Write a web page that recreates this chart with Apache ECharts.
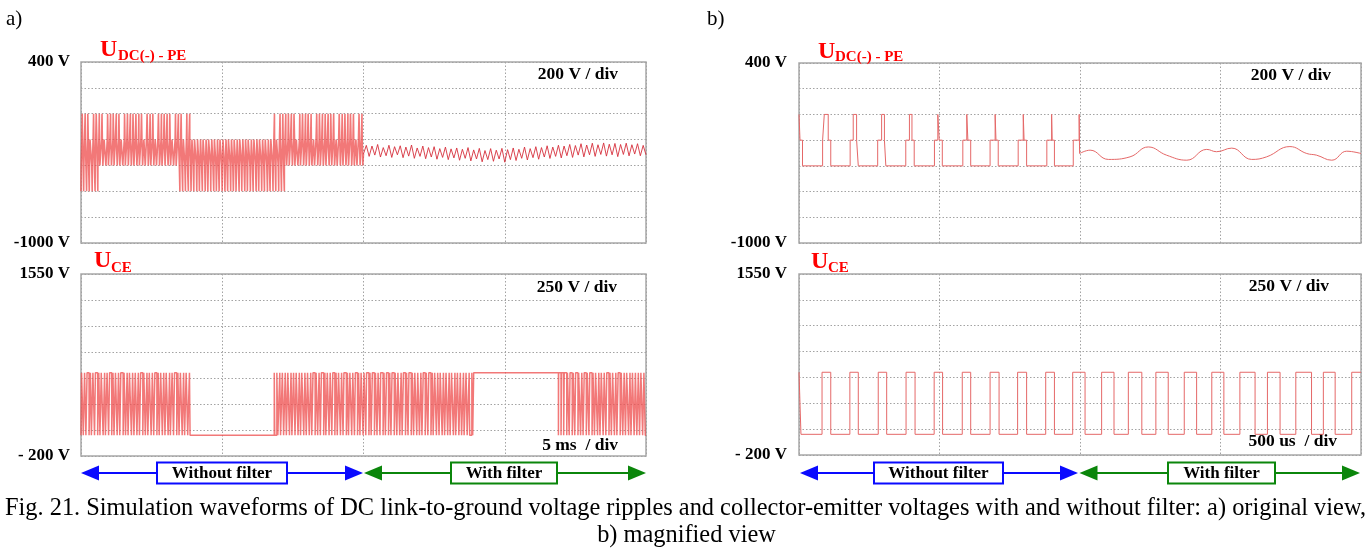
<!DOCTYPE html>
<html>
<head>
<meta charset="utf-8">
<script src="https://cdn.jsdelivr.net/npm/echarts@6/dist/echarts.min.js"></script>
<style>
  html, body { margin: 0; padding: 0; background: #ffffff; }
  #fig { width: 1372px; height: 551px; }
</style>
</head>
<body>
<div id="fig"></div>
<script>
// ---------------- Data ----------------
// a) original view: 20 ms window (5 ms/div), 100 us switching periods.
// DC(-)-to-PE voltage without filter (0..10 ms): per-period widths in us.
// mid = time spent at -200 V or above, top = time at 0 V, low = time at -600 V.
const aUdcMidWidth = [
  46, 52, 38, 61, 44, 57, 35, 49, 63, 41,
  55, 39, 66, 47, 58, 36, 51, 62, 43, 54,
  37, 60, 48, 65, 40, 53, 45, 59, 34, 50,
  64, 42, 56, 38, 61, 47, 52, 36, 58, 44,
  63, 49, 39, 57, 45, 66, 41, 54, 37, 60,
  48, 35, 62, 46, 55, 40, 59, 43, 51, 64,
  38, 56, 47, 61, 42, 53, 36, 58, 45, 63,
  50, 39, 57, 44, 65, 41, 54, 37, 60, 48,
  62, 46, 35, 59, 43, 55, 40, 66, 49, 52,
  38, 61, 45, 57, 42, 64, 47, 36, 58, 50
];
const aUdcTopWidth = [
  14, 6, 18, 0, 10, 22, 4, 12, 0, 16,
  8, 20, 2, 13, 0, 17, 9, 5, 19, 11,
  3, 15, 0, 21, 7, 12, 0, 18, 6, 10,
  2, 14, 0, 9, 4, 11, 0, 6, 3, 0,
  0, 0, 0, 0, 0, 0, 0, 0, 0, 0,
  0, 0, 0, 0, 0, 0, 0, 0, 0, 0,
  0, 0, 0, 0, 0, 0, 0, 0, 4, 0,
  8, 12, 3, 16, 7, 20, 0, 11, 15, 5,
  18, 9, 0, 13, 21, 6, 10, 2, 17, 12,
  0, 19, 8, 14, 4, 22, 11, 0, 16, 9
];
const aUdcLowWidth = [
  12, 5, 16, 8, 3, 10, 0, 0, 0, 0,
  0, 0, 0, 0, 0, 0, 0, 0, 0, 0,
  0, 0, 0, 0, 0, 0, 0, 0, 0, 0,
  0, 0, 0, 0, 0, 2, 6, 0, 9, 14,
  4, 18, 11, 7, 20, 13, 3, 16, 22, 8,
  12, 19, 5, 15, 24, 9, 17, 6, 21, 10,
  14, 3, 18, 8, 12, 0, 15, 6, 10, 2,
  7, 4, 0, 0, 0, 0, 0, 0, 0, 0,
  0, 0, 0, 0, 0, 0, 0, 0, 0, 0,
  0, 0, 0, 0, 0, 0, 0, 0, 0, 0
];
const udcLevels = [0, -200, -400, -600];          // V
// Filtered DC(-)-to-PE ripple (10..20 ms), turning points every 0.1 ms, V
const aUdcRippleStartMs = 10;
const aUdcRippleStepMs = 0.1;
const aUdcRipple = [
  -310, -245, -330, -250, -320, -238, -335, -262, -325, -244,
  -338, -255, -318, -248, -340, -258, -328, -242, -345, -265,
  -330, -250, -348, -262, -335, -255, -352, -270, -338, -258,
  -355, -272, -342, -265, -360, -275, -345, -262, -365, -280,
  -350, -268, -372, -285, -355, -270, -368, -282, -350, -268,
  -375, -278, -355, -265, -362, -275, -345, -258, -358, -270,
  -340, -255, -352, -262, -335, -248, -346, -258, -330, -244,
  -342, -250, -325, -238, -338, -246, -320, -232, -334, -242,
  -318, -228, -330, -240, -315, -226, -328, -236, -318, -230,
  -332, -238, -315, -228, -326, -240, -312, -232, -325, -245,
  -318
];
// Collector-emitter voltage: high time per 100 us period (us), 0..20 ms
const aUceHighWidth = [
  62, 48, 71, 35, 57, 80, 42, 66, 29, 53,
  74, 38, 60, 45, 83, 51, 33, 69, 47, 58,
  40, 76, 55, 31, 64, 49, 72, 37, 59, 44,
  67, 28, 52, 78, 41, 63, 36, 55, 22, 0,
  0, 0, 0, 0, 0, 0, 0, 0, 0, 0,
  0, 0, 0, 0, 0, 0, 0, 0, 0, 0,
  0, 0, 0, 0, 0, 0, 0, 0, 18, 34,
  27, 45, 39, 58, 31, 52, 66, 43, 70, 49,
  61, 38, 75, 54, 46, 81, 35, 63, 57, 72,
  44, 68, 52, 86, 39, 65, 59, 77, 48, 70,
  62, 83, 41, 74, 56, 67, 88, 50, 71, 45,
  79, 58, 64, 37, 73, 53, 82, 46, 68, 60,
  39, 71, 55, 76, 33, 62, 48, 69, 42, 57,
  35, 64, 28, 51, 44, 23, 40, 19, 30, 100,
  100, 100, 100, 100, 100, 100, 100, 100, 100, 100,
  100, 100, 100, 100, 100, 100, 100, 100, 100, 100,
  100, 100, 100, 100, 100, 100, 100, 100, 100, 85,
  72, 90, 64, 78, 55, 83, 68, 47, 74, 60,
  81, 52, 70, 43, 66, 58, 77, 49, 63, 38,
  71, 54, 45, 67, 36, 59, 50, 42, 62, 48
];
const uceLevels = [0, 600];                        // V

// b) magnified view: 2 ms window (500 us/div), times in us.
// DC(-)-to-PE without filter: [plateauStart, plateauEnd, spikeStart, spikeEnd]
const bUdcPulses = [
  [0, 12.5, 0, 3.6],
  [84, 113, 90, 104],
  [182, 211, 193, 205],
  [280, 309, 294, 304],
  [380, 410, 393, 402],
  [482, 510, 494, 499],
  [583, 611, 597, 601],
  [680, 709, 698, 701],
  [780, 810, 798, 801],
  [882, 909, 899, 901],
  [976, 998.5, 997, 998.5]
];
// Filtered ripple after 1 ms: [t (us), V]
const bUdcRipple = [
  [998.5, -304], [1036, -278], [1101, -350], [1178, -330], [1243, -253],
  [1308, -317], [1380, -356], [1451, -272], [1486, -290], [1540, -262],
  [1611, -350], [1664, -330], [1747, -250], [1807, -304], [1842, -317],
  [1896, -356], [1949, -286], [2000, -304]
];
// Collector-emitter voltage high intervals [start, end] (us)
const bUcePulses = [
  [0, 7], [82, 113], [181, 211], [282, 312], [381, 413], [481, 511],
  [581, 611], [680, 712], [778, 810], [878, 909], [974, 1018],
  [1077, 1121], [1172, 1220], [1270, 1314], [1371, 1415], [1469, 1512],
  [1569, 1623], [1667, 1712], [1768, 1824], [1866, 1908], [1967, 2000]
];

// Axis and annotation texts
const udcTickLabels = { max: '400 V', min: '-1000 V' };
const uceTickLabels = { max: '1550 V', min: '- 200 V' };
const captionLine1 = 'Fig. 21. Simulation waveforms of DC link-to-ground voltage ripples and collector-emitter voltages with and without filter: a) original view,';
const captionLine2 = 'b) magnified view';

// ---------------- Trace builders ----------------
function buildNestedPwm(mid, top, low, periodMs) {
  const [lvTop, lvMid, lvBase, lvLow] = udcLevels;
  const pts = [];
  for (let k = 0; k < mid.length; k++) {
    const m = mid[k] / 1000, tp = top[k] / 1000, lw = low[k] / 1000;
    const base = (periodMs - lw - m) / 2;
    const segs = [
      [lvLow, lw / 2], [lvBase, base], [lvMid, (m - tp) / 2], [lvTop, tp],
      [lvMid, (m - tp) / 2], [lvBase, base], [lvLow, lw / 2]
    ];
    let t = k * periodMs;
    segs.forEach(([lv, d]) => {
      if (d <= 0) return;
      pts.push([t, lv], [t + d, lv]);
      t += d;
    });
  }
  return pts;
}

function buildCenteredPulses(widths, periodMs) {
  const [lo, hi] = uceLevels;
  const pts = [];
  for (let k = 0; k < widths.length; k++) {
    const w = widths[k] / 1000, off = (periodMs - w) / 2;
    let t = k * periodMs;
    if (off > 0) { pts.push([t, lo], [t + off, lo]); t += off; }
    if (w > 0) { pts.push([t, hi], [t + w, hi]); t += w; }
    if (off > 0) { pts.push([t, lo], [t + off, lo]); }
  }
  return pts;
}

function buildIntervals(list, lo, hi, end) {
  const pts = [];
  let t = 0;
  list.forEach(([s, e]) => {
    if (s > t) pts.push([t, lo], [s, lo]);
    pts.push([s, hi], [e, hi]);
    t = e;
  });
  if (t < end) pts.push([t, lo], [end, lo]);
  return pts;
}

function buildPlateauSpikes(list) {
  const [lvTop, lvMid, lvBase] = udcLevels;
  const pts = [];
  let t = 0;
  list.forEach(([s, e, ss, se]) => {
    if (s > t) pts.push([t, lvBase], [s, lvBase]);
    if (ss > s) pts.push([s, lvMid], [ss, lvMid]);
    pts.push([ss, lvTop], [se, lvTop]);
    if (e > se) pts.push([se, lvMid], [e, lvMid]);
    t = e;
  });
  return pts;
}

const aUdcSwitched = buildNestedPwm(aUdcMidWidth, aUdcTopWidth, aUdcLowWidth, 0.1);
const aUdcFiltered = aUdcRipple.map((v, i) => [aUdcRippleStartMs + i * aUdcRippleStepMs, v]);
aUdcSwitched.push(aUdcFiltered[0]);
const aUce = buildCenteredPulses(aUceHighWidth, 0.1);
const bUdcSwitched = buildPlateauSpikes(bUdcPulses);
bUdcSwitched.push(bUdcRipple[0]);
const bUce = buildIntervals(bUcePulses, uceLevels[0], uceLevels[1], 2000);

// ---------------- Chart ----------------
const SERIF = '"Liberation Serif", "Times New Roman", serif';
const gridLine = { show: true, lineStyle: { color: '#a3a3a3', width: 1, type: [1.5, 2] } };
const gridBox = { show: true, borderColor: '#a8a8a8', borderWidth: 1.5, backgroundColor: '#ffffff', containLabel: false };

const grids = [
  Object.assign({ left: 81, top: 62, width: 565, height: 181 }, gridBox),
  Object.assign({ left: 81, top: 274, width: 565, height: 182 }, gridBox),
  Object.assign({ left: 799, top: 63, width: 562, height: 180 }, gridBox),
  Object.assign({ left: 799, top: 274, width: 562, height: 181 }, gridBox)
];

function xAxisFor(gridIndex, max, interval) {
  return {
    type: 'value', gridIndex, min: 0, max, interval,
    axisLine: { show: false }, axisTick: { show: false }, axisLabel: { show: false },
    splitLine: gridLine
  };
}
function yAxisFor(gridIndex, min, max, interval, labels, margin) {
  return {
    type: 'value', gridIndex, min, max, interval,
    axisLine: { show: false }, axisTick: { show: false },
    axisLabel: {
      show: true, margin,
      fontFamily: SERIF, fontWeight: 'bold', fontSize: 17, color: '#000',
      formatter: v => (v === max ? labels.max : (v === min ? labels.min : ''))
    },
    splitLine: gridLine
  };
}

function trace(data, xi, color, width, smooth) {
  return {
    type: 'line', xAxisIndex: xi, yAxisIndex: xi, data,
    showSymbol: false, symbol: 'none', silent: true, smooth: smooth || false,
    lineStyle: { color, width }, animation: false, clip: true
  };
}

const denseRed = 'rgba(238, 82, 82, 0.78)';
const thinRed = '#e56868';

// ---------------- Annotations ----------------
const els = [];
function txt(x, y, text, size, opts) {
  const o = opts || {};
  const el = {
    type: 'text', x, y, silent: true,
    style: {
      text, fill: o.color || '#000',
      font: (o.bold ? 'bold ' : '') + size + 'px ' + SERIF,
      align: o.align || 'left', textAlign: o.align || 'left',
      verticalAlign: 'middle', textVerticalAlign: 'middle'
    }
  };
  if (o.scaleX) { el.scaleX = o.scaleX; el.originX = 0; el.originY = 0; }
  els.push(el);
}

// panel letters
txt(6, 19, 'a)', 21);
txt(707, 19, 'b)', 21);

// trace names
const RED = '#ff0000';
txt(100, 49.5, 'U', 24, { color: RED, bold: true });
txt(118, 56.5, 'DC(-) - PE', 15, { color: RED, bold: true });
txt(818, 51.5, 'U', 24, { color: RED, bold: true });
txt(835, 57.5, 'DC(-) - PE', 15, { color: RED, bold: true });
txt(94, 261, 'U', 24, { color: RED, bold: true });
txt(111, 268, 'CE', 15, { color: RED, bold: true });
txt(811, 262, 'U', 24, { color: RED, bold: true });
txt(828, 268, 'CE', 15, { color: RED, bold: true });

// scale notes
txt(618, 74.5, '200 V / div', 17.5, { bold: true, align: 'right' });
txt(617, 287.5, '250 V / div', 17.5, { bold: true, align: 'right' });
txt(618, 445, '5 ms  / div', 17.5, { bold: true, align: 'right' });
txt(1331, 75, '200 V / div', 17.5, { bold: true, align: 'right' });
txt(1329, 286.5, '250 V / div', 17.5, { bold: true, align: 'right' });
txt(1337, 441.5, '500 us  / div', 17.5, { bold: true, align: 'right' });

// filter-state arrows
function arrowBar(x1, x2, y, color, boxL, boxR, label) {
  const head = 18, half = 7.5;
  els.push({ type: 'line', silent: true, shape: { x1: x1 + head - 2, y1: y, x2: x2 - head + 2, y2: y },
    style: { stroke: color, lineWidth: 2.2 } });
  els.push({ type: 'polygon', silent: true, shape: { points: [[x1, y], [x1 + head, y - half], [x1 + head, y + half]] },
    style: { fill: color } });
  els.push({ type: 'polygon', silent: true, shape: { points: [[x2, y], [x2 - head, y - half], [x2 - head, y + half]] },
    style: { fill: color } });
  els.push({ type: 'rect', silent: true, shape: { x: boxL, y: y - 10.5, width: boxR - boxL, height: 21 },
    style: { fill: '#ffffff', stroke: color, lineWidth: 2 } });
  txt((boxL + boxR) / 2, y + 0.5, label, 17, { bold: true, align: 'center' });
}
const BLUE = '#0a0aff', GREEN = '#0b860b';
arrowBar(81, 363, 473, BLUE, 157, 287, 'Without filter');
arrowBar(364, 646, 473, GREEN, 451, 557, 'With filter');
arrowBar(800, 1078, 473, BLUE, 874, 1003, 'Without filter');
arrowBar(1079.5, 1360, 473, GREEN, 1168, 1275, 'With filter');

// caption: first line justified across the page, glyphs narrowed if needed
(function () {
  const ctx = document.createElement('canvas').getContext('2d');
  const size = 24.5;
  ctx.font = size + 'px ' + SERIF;
  const words = captionLine1.split(' ');
  const left = 5, right = 1366;
  const widths = words.map(w => ctx.measureText(w).width);
  const total = widths.reduce((a, b) => a + b, 0);
  const space = ctx.measureText(' ').width;
  const sx = Math.min(1, (right - left) / (total + space * (words.length - 1)));
  const gap = (right - left - total * sx) / (words.length - 1);
  let x = left;
  words.forEach((w, i) => {
    txt(x, 508.5, w, size, { scaleX: sx });
    x += widths[i] * sx + gap;
  });
  const w2 = ctx.measureText(captionLine2).width * sx;
  txt(686.5 - w2 / 2, 536, captionLine2, size, { scaleX: sx });
})();

const option = {
  animation: false,
  backgroundColor: '#ffffff',
  grid: grids,
  xAxis: [xAxisFor(0, 20, 5), xAxisFor(1, 20, 5), xAxisFor(2, 2000, 500), xAxisFor(3, 2000, 500)],
  yAxis: [
    yAxisFor(0, -1000, 400, 200, udcTickLabels, 11),
    yAxisFor(1, -200, 1550, 250, uceTickLabels, 11),
    yAxisFor(2, -1000, 400, 200, udcTickLabels, 12),
    yAxisFor(3, -200, 1550, 250, uceTickLabels, 12)
  ],
  series: [
    trace(aUdcSwitched, 0, denseRed, 1.6),
    trace(aUdcFiltered, 0, 'rgba(214, 48, 60, 0.9)', 1),
    trace(aUce, 1, denseRed, 1.5),
    trace(bUdcSwitched, 2, thinRed, 1),
    trace(bUdcRipple, 2, thinRed, 1, 0.45),
    trace(bUce, 3, thinRed, 1)
  ],
  graphic: { elements: els }
};

const chart = echarts.init(document.getElementById('fig'), null, { renderer: 'canvas', width: 1372, height: 551 });
chart.setOption(option);
</script>
</body>
</html>
